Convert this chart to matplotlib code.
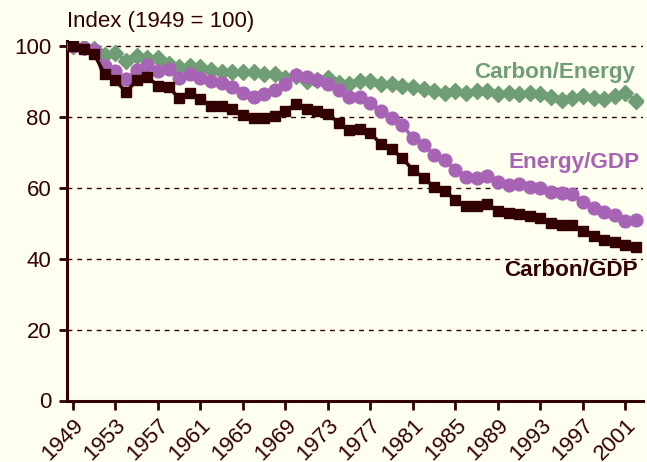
import matplotlib
matplotlib.use("Agg")
import matplotlib.pyplot as plt
import numpy as np

plt.rcParams['font.family'] = ['Liberation Sans', 'DejaVu Sans']

years = list(range(1949, 2003))

carbon_energy = [100, 99.8, 99.2, 97.5, 98.1, 95.9, 97.2, 96.7, 96.5, 95.0,
                 94.1, 94.4, 94.1, 93.2, 92.8, 92.8, 92.8, 92.6, 92.2, 92.0,
                 91.1, 91.5, 90.1, 90.3, 91.1, 89.7, 89.4, 90.0, 90.1, 89.2,
                 89.2, 88.7, 88.5, 87.8, 87.3, 86.8, 87.3, 86.8, 87.3, 87.3,
                 86.6, 86.8, 86.4, 86.8, 86.4, 85.6, 84.7, 85.4, 85.9, 85.4,
                 85.0, 85.9, 86.8, 84.5]

energy_gdp = [100, 99.5, 98.8, 94.4, 93.0, 90.6, 93.2, 94.6, 93.0, 93.6,
              91.1, 92.2, 91.1, 90.1, 89.7, 88.3, 86.7, 85.7, 86.6, 87.5,
              89.2, 91.7, 91.3, 90.3, 89.2, 87.5, 85.6, 85.6, 83.8, 81.7,
              79.6, 77.7, 74.0, 72.1, 69.3, 67.8, 65.0, 63.1, 62.9, 63.4,
              61.7, 60.8, 61.0, 60.1, 59.9, 58.7, 58.4, 58.2, 56.1, 54.2,
              53.3, 52.4, 50.7, 51.0]

carbon_gdp = [100, 99.1, 97.7, 92.0, 90.3, 87.0, 90.3, 91.3, 88.8, 88.3,
              85.4, 86.7, 85.0, 83.1, 83.1, 82.3, 80.5, 79.6, 79.8, 80.3,
              81.7, 83.7, 82.2, 81.7, 80.8, 78.4, 76.2, 76.5, 75.4, 72.3,
              70.9, 68.4, 65.0, 62.9, 60.1, 59.2, 56.5, 54.9, 54.9, 55.4,
              53.5, 53.0, 52.6, 52.1, 51.6, 50.2, 49.6, 49.6, 47.9, 46.5,
              45.3, 44.8, 43.9, 43.2]

xtick_years = list(range(1949, 2002, 4))
yticks = [0, 20, 40, 60, 80, 100]

bg = '#FFFFF0'
maroon = '#330000'
purple = '#A864B4'
green = '#6F9E76'

W, H = 647, 462
fig = plt.figure(figsize=(W / 100, H / 100), dpi=100, facecolor=bg)
ax = fig.add_axes([66.5 / W, (H - 400.5) / H, 576.5 / W, 359.8 / H],
                  facecolor=bg)

for y in yticks[1:]:
    ax.axhline(y, color=maroon, lw=1.0, dashes=(3.5, 3.5), zorder=1)

ax.plot(years, carbon_energy, color=green, lw=2.5, marker='D', ms=8,
        mec=green, zorder=3)
ax.plot(years, energy_gdp, color=purple, lw=2.5, marker='o', ms=9.2,
        mec=purple, zorder=4)
ax.plot(years, carbon_gdp, color=maroon, lw=2.5, marker='s', ms=7.5,
        mec=maroon, zorder=5)

ax.set_xlim(1948.4, 2002.65)
ax.set_ylim(0, 101.5)

ax.set_xticks(xtick_years)
ax.set_xticklabels([str(y) for y in xtick_years], rotation=45, ha='right',
                   rotation_mode='anchor', fontsize=16, color=maroon)
ax.set_yticks(yticks)
ax.set_yticklabels([str(y) for y in yticks], fontsize=16, color=maroon)

ax.tick_params(axis='x', length=6.5, width=2, color=maroon, pad=4)
ax.tick_params(axis='y', length=6, width=2, color=maroon, pad=5)

for s in ['top', 'right']:
    ax.spines[s].set_visible(False)
for s in ['left', 'bottom']:
    ax.spines[s].set_color(maroon)
    ax.spines[s].set_linewidth(2.2)

ax.text(2001.9, 92.4, 'Carbon/Energy', color=green, fontsize=16.2,
        fontweight='bold', ha='right', va='center')
ax.text(2002.35, 67.0, 'Energy/GDP', color=purple, fontsize=16.2,
        fontweight='bold', ha='right', va='center')
ax.text(2002.2, 36.6, 'Carbon/GDP', color=maroon, fontsize=16.2,
        fontweight='bold', ha='right', va='center')

fig.text(67 / W, 1 - 21 / H, 'Index (1949 = 100)', color=maroon,
         fontsize=16, ha='left', va='center')

fig.savefig('out.png', dpi=100, facecolor=bg)
